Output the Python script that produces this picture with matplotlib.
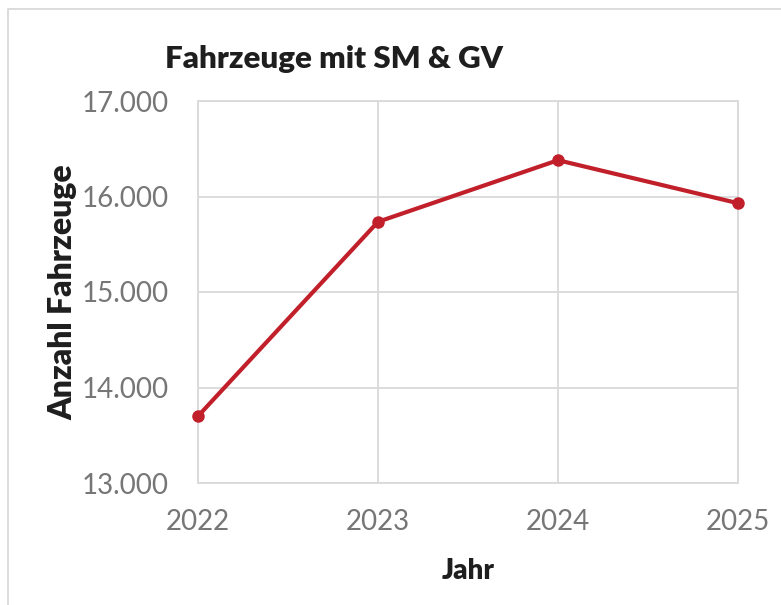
import matplotlib
matplotlib.use("Agg")
import matplotlib.pyplot as plt
from matplotlib.ticker import FuncFormatter
from matplotlib.lines import Line2D

plt.rcParams['font.family'] = ['Lato', 'DejaVu Sans']

years = ['2022', '2023', '2024', '2025']
fahrzeuge = [13700, 15735, 16380, 15930]
y_ticks = [13000, 14000, 15000, 16000, 17000]

red = '#C1202B'
grid = '#D9D9D9'
tick_grey = '#767676'
dark = '#1E1E1E'

fig = plt.figure(figsize=(7.81, 6.05), dpi=100)
ax = fig.add_axes([198 / 781, 1 - 483 / 605, 540 / 781, 382 / 605])

x = list(range(len(years)))
ax.plot(x, fahrzeuge, color=red, lw=3, marker='o', markersize=8,
        solid_capstyle='round', zorder=3, clip_on=False)

ax.set_xlim(0, len(years) - 1)
ax.set_ylim(13000, 17000)
ax.set_xticks(x)
ax.set_xticklabels(years)
ax.set_yticks(y_ticks)
ax.yaxis.set_major_formatter(FuncFormatter(lambda v, p: f'{v:,.0f}'.replace(',', '.')))

ax.grid(True, color=grid, lw=1.3)
for s in ax.spines.values():
    s.set_color(grid)
    s.set_linewidth(1.3)
ax.tick_params(length=0, labelsize=20, labelcolor=tick_grey)
ax.tick_params(axis='x', pad=19)
ax.tick_params(axis='y', pad=21)

ax.set_xlabel('Jahr', fontsize=20, fontweight='heavy', color=dark, labelpad=16)
ax.set_ylabel('Anzahl Fahrzeuge', fontsize=23, fontweight='heavy', color=dark, labelpad=3)

fig.text(165 / 781, 1 - 68 / 605, 'Fahrzeuge mit SM & GV', fontsize=22.5,
         fontweight='heavy', color=dark, va='baseline', ha='left')

# outer frame (only left/top visible in the crop)
fig.add_artist(Line2D([8 / 781, 8 / 781, 1], [0, 1 - 9 / 605, 1 - 9 / 605],
                      transform=fig.transFigure, color=grid, lw=1.3))

fig.savefig('out.png', dpi=100)
